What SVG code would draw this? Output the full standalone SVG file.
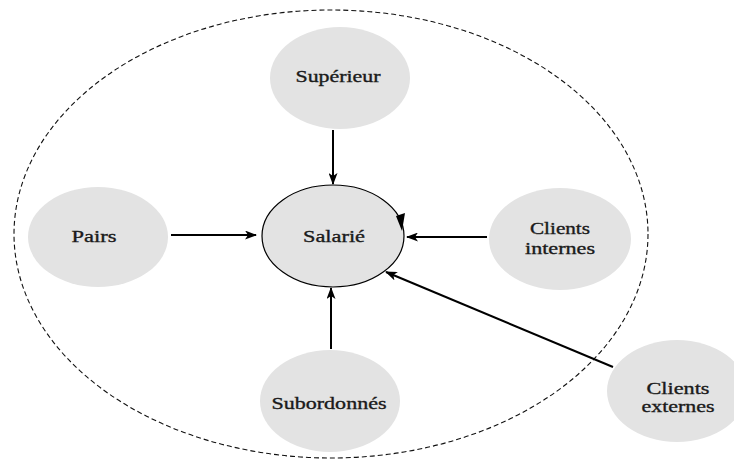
<svg xmlns="http://www.w3.org/2000/svg" width="734" height="463" viewBox="0 0 734 463">
<style>
.node{fill:#e3e3e3;stroke:none}
.lbl{font-family:"Liberation Serif","Times New Roman",serif;font-size:17px;fill:#1a1a1a;stroke:#1a1a1a;stroke-width:0.35;text-anchor:middle}
.conn{stroke:#000;stroke-width:2;fill:none;marker-end:url(#ah)}
</style>
<defs>
<marker id="ah" markerWidth="12" markerHeight="9" refX="11" refY="4.5" orient="auto" markerUnits="userSpaceOnUse">
<path d="M0,0 L12,4.5 L0,9 L3,4.5 Z" fill="#000"/>
</marker>
</defs>
<rect width="734" height="463" fill="#fff"/>
<ellipse cx="331" cy="234" rx="317" ry="224" fill="none" stroke="#111" stroke-width="1.1" stroke-dasharray="5,3"/>
<g id="superieur">
<ellipse class="node" cx="340" cy="78" rx="70" ry="51"/>
<text class="lbl" x="338" y="82" textLength="85" lengthAdjust="spacingAndGlyphs">Supérieur</text>
</g>
<g id="pairs">
<ellipse class="node" cx="98" cy="237" rx="70" ry="50"/>
<text class="lbl" x="94" y="242" textLength="45" lengthAdjust="spacingAndGlyphs">Pairs</text>
</g>
<g id="salarie">
<ellipse cx="333" cy="236" rx="71" ry="51" fill="#e3e3e3" stroke="#000" stroke-width="1.2"/>
<text class="lbl" x="334" y="242" textLength="62" lengthAdjust="spacingAndGlyphs">Salarié</text>
</g>
<g id="clients-internes">
<ellipse class="node" cx="560" cy="239" rx="71" ry="51"/>
<text class="lbl" x="560" y="234" textLength="60" lengthAdjust="spacingAndGlyphs">Clients</text>
<text class="lbl" x="560" y="254" textLength="70" lengthAdjust="spacingAndGlyphs">internes</text>
</g>
<g id="subordonnes">
<ellipse class="node" cx="330" cy="401" rx="70" ry="51"/>
<text class="lbl" x="329" y="409" textLength="115" lengthAdjust="spacingAndGlyphs">Subordonnés</text>
</g>
<g id="clients-externes">
<ellipse class="node" cx="677" cy="391" rx="70" ry="51"/>
<text class="lbl" x="678" y="394" textLength="63" lengthAdjust="spacingAndGlyphs">Clients</text>
<text class="lbl" x="678" y="412" textLength="73" lengthAdjust="spacingAndGlyphs">externes</text>
</g>
<g id="connectors">
<line class="conn" x1="333" y1="130" x2="333" y2="184"/>
<line class="conn" x1="171" y1="235" x2="256" y2="235"/>
<line class="conn" x1="487" y1="237" x2="407" y2="237"/>
<line class="conn" x1="331" y1="349" x2="331" y2="288"/>
<line class="conn" x1="613" y1="367" x2="386" y2="272"/>
<path d="M396,216 L405,213 L402,231 Z" fill="#000"/>
</g>
</svg>
